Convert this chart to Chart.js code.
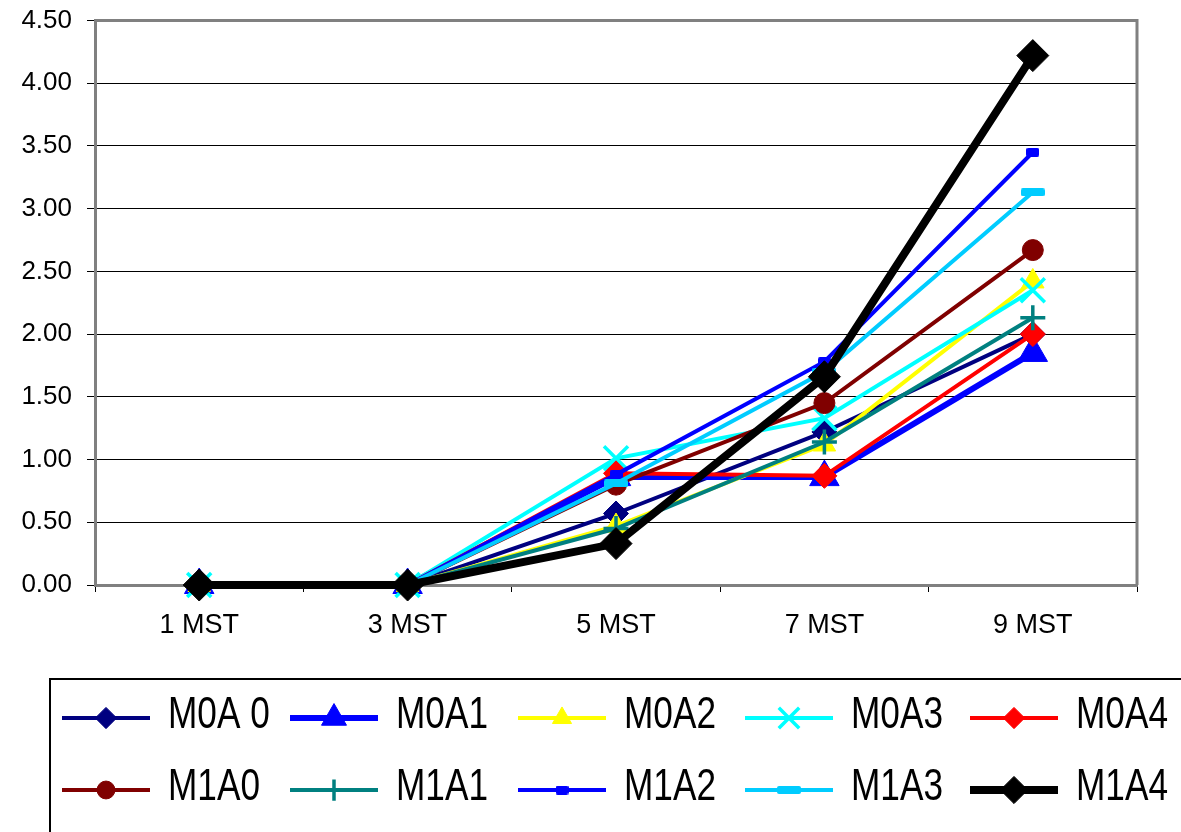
<!DOCTYPE html>
<html><head><meta charset="utf-8">
<script src="https://cdn.jsdelivr.net/npm/chart.js@4/dist/chart.umd.min.js"></script>
<style>html,body{margin:0;padding:0;background:#fff;overflow:hidden}#wrap{width:1181px;height:832px;position:relative}</style>
</head><body><div id="wrap"><canvas id="c" width="1181" height="832"></canvas></div>
<script>
const categories = ['1 MST', '3 MST', '5 MST', '7 MST', '9 MST'];
const seriesNames = ['M0A 0', 'M0A1', 'M0A2', 'M0A3', 'M0A4', 'M1A0', 'M1A1', 'M1A2', 'M1A3', 'M1A4'];
const M0A0 = [0, 0, 0.57, 1.22, 2.00];
const M0A1 = [0, 0, 0.86, 0.86, 1.85];
const M0A2 = [0, 0, 0.47, 1.12, 2.42];
const M0A3 = [0, 0, 1.01, 1.33, 2.35];
const M0A4 = [0, 0, 0.89, 0.87, 2.00];
const M1A0 = [0, 0, 0.80, 1.45, 2.67];
const M1A1 = [0, 0, 0.45, 1.14, 2.13];
const M1A2 = [0, 0, 0.88, 1.78, 3.45];
const M1A3 = [0, 0, 0.81, 1.70, 3.13];
const M1A4 = [0, 0, 0.33, 1.66, 4.22];
const yTickValues = [0, 0.5, 1, 1.5, 2, 2.5, 3, 3.5, 4, 4.5];

function dashImg(w, h, color) {
  const c = document.createElement('canvas');
  c.width = w; c.height = h;
  const g = c.getContext('2d');
  g.fillStyle = color;
  const r = Math.min(2, h / 2);
  g.beginPath();
  g.moveTo(r, 0); g.lineTo(w - r, 0); g.quadraticCurveTo(w, 0, w, r);
  g.lineTo(w, h - r); g.quadraticCurveTo(w, h, w - r, h);
  g.lineTo(r, h); g.quadraticCurveTo(0, h, 0, h - r);
  g.lineTo(0, r); g.quadraticCurveTo(0, 0, r, 0);
  g.fill();
  return c;
}
const dashM1A2 = dashImg(13, 9, '#0000FF');
const dashM1A3 = dashImg(24, 8, '#00CCFF');

const values = [M0A0, M0A1, M0A2, M0A3, M0A4, M1A0, M1A1, M1A2, M1A3, M1A4];
const styles = [
  {color: '#000080', width: 4, point: 'rectRot', r: 12.5, pb: 1},
  {color: '#0000FF', width: 6, point: 'triangle', r: 17, pb: 1},
  {color: '#FFFF00', width: 4, point: 'triangle', r: 13, pb: 1},
  {color: '#00FFFF', width: 4, point: 'crossRot', r: 17, pb: 3.5},
  {color: '#FF0000', width: 4, point: 'rectRot', r: 12.5, pb: 1},
  {color: '#800000', width: 4, point: 'circle', r: 10.5, pb: 1},
  {color: '#008080', width: 4, point: 'cross', r: 12.5, pb: 3.5},
  {color: '#0000FF', width: 4, point: dashM1A2, r: 6, pb: 1},
  {color: '#00CCFF', width: 4, point: dashM1A3, r: 10, pb: 1},
  {color: '#000000', width: 8, point: 'rectRot', r: 16, pb: 1}
];

const datasets = values.map((v, i) => ({
  label: seriesNames[i],
  data: v,
  borderColor: styles[i].color,
  backgroundColor: styles[i].color,
  borderWidth: styles[i].width,
  pointStyle: styles[i].point,
  pointRadius: styles[i].r,
  pointBorderWidth: styles[i].pb,
  pointBackgroundColor: styles[i].color,
  pointBorderColor: styles[i].color,
  tension: 0,
  clip: false,
  order: 20 - i
}));

const frame = {
  id: 'frame',
  beforeDatasetsDraw(chart) {
    const {ctx, chartArea: a} = chart;
    ctx.save();
    ctx.strokeStyle = '#808080';
    ctx.lineWidth = 3;
    ctx.beginPath();
    ctx.moveTo(a.left, a.top); ctx.lineTo(a.right, a.top); ctx.lineTo(a.right, a.bottom);
    ctx.stroke();
    ctx.restore();
  },
  afterDraw(chart) {
    const ctx = chart.ctx;
    ctx.save();
    ctx.strokeStyle = '#000';
    ctx.lineWidth = 2;
    ctx.strokeRect(50, 679, 1200, 200);
    const cols = [62, 290, 518, 745, 970];
    const rows = [718, 790];
    for (let i = 0; i < 10; i++) {
      const s = styles[i];
      const x0 = cols[i % 5], y0 = rows[Math.floor(i / 5)];
      ctx.strokeStyle = s.color;
      ctx.fillStyle = s.color;
      ctx.lineWidth = s.width;
      ctx.beginPath();
      ctx.moveTo(x0, y0); ctx.lineTo(x0 + 88, y0);
      ctx.stroke();
      ctx.lineWidth = s.pb;
      Chart.helpers.drawPoint(ctx, {pointStyle: s.point, radius: s.r * 0.85, borderWidth: s.pb, rotation: 0}, x0 + 44, y0);
      ctx.save();
      ctx.translate(x0 + 106, y0 - 2);
      ctx.scale(0.8, 1);
      ctx.font = "44px 'Liberation Sans', Arial, sans-serif";
      ctx.textBaseline = 'middle';
      ctx.textAlign = 'left';
      ctx.fillStyle = '#000';
      ctx.fillText(seriesNames[i], 0, 0);
      ctx.restore();
    }
    ctx.restore();
  }
};

new Chart(document.getElementById('c'), {
  type: 'line',
  data: {labels: categories, datasets: datasets},
  plugins: [frame],
  options: {
    responsive: false,
    animation: false,
    events: [],
    layout: {padding: {left: 0, top: 20, right: 44, bottom: 0}},
    plugins: {legend: {display: false}, tooltip: {enabled: false}},
    scales: {
      x: {
        offset: true,
        afterFit(s) { s.height = 247; s.paddingLeft = 0; s.paddingRight = 0; },
        grid: {drawOnChartArea: false, drawTicks: true, tickLength: 7, tickColor: '#000', offset: true},
        border: {color: '#808080', width: 3},
        ticks: {color: '#000', padding: 17, font: {family: "'Liberation Sans', Arial, sans-serif", size: 27}}
      },
      y: {
        min: 0, max: 4.5,
        afterFit(s) { s.width = 95; s.paddingTop = 0; s.paddingBottom = 0; },
        afterBuildTicks(s) { s.ticks = yTickValues.map(v => ({value: v})); },
        grid: {color: '#000', lineWidth: 1, tickLength: 8, tickColor: '#000'},
        border: {color: '#808080', width: 3},
        ticks: {color: '#000', padding: 15, font: {family: "'Liberation Sans', Arial, sans-serif", size: 26},
          callback: v => Number(v).toFixed(2)}
      }
    }
  }
});
</script>
</body></html>
